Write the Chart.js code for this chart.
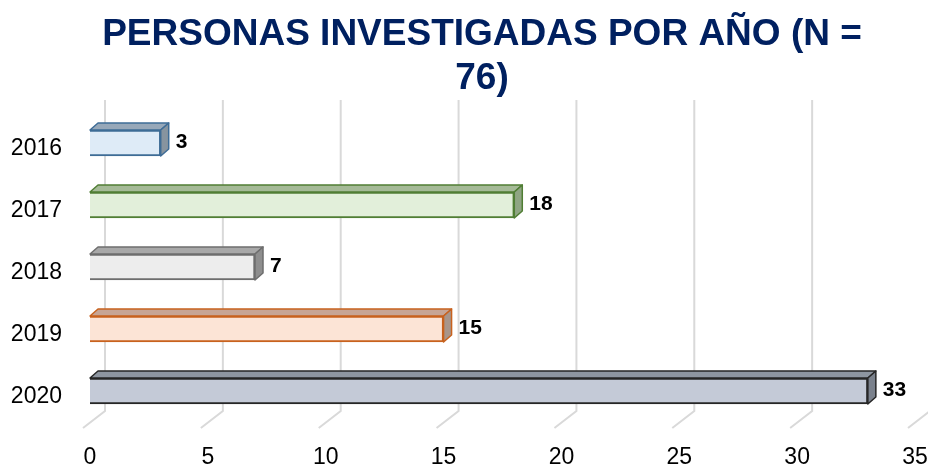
<!DOCTYPE html>
<html>
<head>
<meta charset="utf-8">
<script src="https://cdn.jsdelivr.net/npm/chart.js@4"></script>
<style>
  html, body { margin: 0; padding: 0; background: #fff; }
  #wrap { width: 928px; height: 464px; }
</style>
</head>
<body>
<div id="wrap"><canvas id="myChart"></canvas></div>
<script>
// data
let years = ['2016', '2017', '2018', '2019', '2020'];
let personas = [3, 18, 7, 15, 33];
let xTicks = [0, 5, 10, 15, 20, 25, 30, 35];
let titleLines = ['PERSONAS INVESTIGADAS POR AÑO (N =', '76)'];

// colours per bar: front, border, top, side
let frontColors = ['#DEEBF7', '#E2EFDA', '#EDEDED', '#FCE4D6', '#C4CAD7'];
let borderColors = ['#3E6C96', '#507E34', '#6E6E6E', '#C8621E', '#262626'];
let topColors = ['#97A8B9', '#A5BA97', '#A8A8A8', '#C7A595', '#8E96A1'];
let sideColors = ['#87949F', '#8FA583', '#8E8E8E', '#A8958A', '#7A818C'];

const fontFam = '"Liberation Sans", Arial, sans-serif';
const depthX = 8, depthY = 7;

// title is a bit right of the canvas centre in the original, so drawn by hand
const titlePlugin = {
  id: 'offsetTitle',
  afterDraw(chart) {
    let ctx = chart.ctx;
    ctx.save();
    ctx.fillStyle = '#002060';
    ctx.font = 'bold 37px ' + fontFam;
    ctx.textAlign = 'center';
    ctx.textBaseline = 'middle';
    ctx.fillText(titleLines[0], 482, 35);
    ctx.fillText(titleLines[1], 482, 79);
    ctx.restore();
  }
};

// back wall gridlines with the little floor diagonal
const gridPlugin = {
  id: 'grid3d',
  beforeDatasetsDraw(chart) {
    let ctx = chart.ctx;
    let area = chart.chartArea;
    let xs = chart.scales.x;
    ctx.save();
    ctx.strokeStyle = '#D9D9D9';
    ctx.lineWidth = 2;
    for (let t of xTicks) {
      let px = xs.getPixelForValue(t);
      ctx.beginPath();
      ctx.moveTo(px + 15, area.top - 12);
      ctx.lineTo(px + 15, area.bottom - 11);
      ctx.lineTo(px - 7, area.bottom + 6);
      ctx.stroke();
    }
    ctx.restore();
  }
};

// top + side faces and the value labels
const boxPlugin = {
  id: 'box3d',
  afterDatasetsDraw(chart) {
    let ctx = chart.ctx;
    let meta = chart.getDatasetMeta(0);
    ctx.save();
    ctx.lineWidth = 1.5;
    ctx.lineJoin = 'round';
    meta.data.forEach(function(bar, i) {
      let p = bar.getProps(['x', 'y', 'base', 'height'], true);
      let top = p.y - p.height / 2;
      let bot = p.y + p.height / 2;
      ctx.strokeStyle = borderColors[i];

      ctx.beginPath();
      ctx.moveTo(p.base, top);
      ctx.lineTo(p.base + depthX, top - depthY);
      ctx.lineTo(p.x + depthX, top - depthY);
      ctx.lineTo(p.x, top);
      ctx.closePath();
      ctx.fillStyle = topColors[i];
      ctx.fill();
      ctx.stroke();

      ctx.beginPath();
      ctx.moveTo(p.x, top);
      ctx.lineTo(p.x + depthX, top - depthY);
      ctx.lineTo(p.x + depthX, bot - depthY);
      ctx.lineTo(p.x, bot);
      ctx.closePath();
      ctx.fillStyle = sideColors[i];
      ctx.fill();
      ctx.stroke();

      ctx.fillStyle = '#000';
      ctx.font = 'bold 21px ' + fontFam;
      ctx.textAlign = 'left';
      ctx.textBaseline = 'middle';
      ctx.fillText(String(personas[i]), p.x + depthX + 7, p.y - 1);
    });
    ctx.restore();
  }
};

let canvasEl = document.getElementById('myChart').getContext('2d');

var myChart = new Chart(canvasEl, {
  type: 'bar',
  data: {
    labels: years,
    datasets: [{
      label: 'Personas investigadas',
      data: personas,
      backgroundColor: frontColors,
      borderColor: borderColors,
      borderWidth: 2,
      barThickness: 26
    }]
  },
  options: {
    indexAxis: 'y',
    responsive: true,
    maintainAspectRatio: false,
    animation: false,
    layout: { padding: { top: 112, right: 0, bottom: 0, left: 0 } },
    plugins: {
      legend: { display: false },
      tooltip: { enabled: false },
      title: { display: false }
    },
    scales: {
      x: {
        min: 0,
        max: 35,
        afterBuildTicks: function(scale) {
          scale.ticks = xTicks.map(v => ({ value: v }));
        },
        afterFit: function(scale) {
          scale.height = 42;
          scale.paddingRight = 13;
        },
        grid: { display: false, drawTicks: false },
        border: { display: false },
        ticks: {
          color: '#000',
          padding: 22,
          maxRotation: 0,
          font: { family: fontFam, size: 23 }
        }
      },
      y: {
        afterFit: function(scale) { scale.width = 90; },
        grid: { display: false, drawTicks: false },
        border: { display: false },
        ticks: {
          color: '#000',
          padding: 28,
          labelOffset: 6,
          font: { family: fontFam, size: 23 }
        }
      }
    }
  },
  plugins: [gridPlugin, boxPlugin, titlePlugin]
});
</script>
</body>
</html>
